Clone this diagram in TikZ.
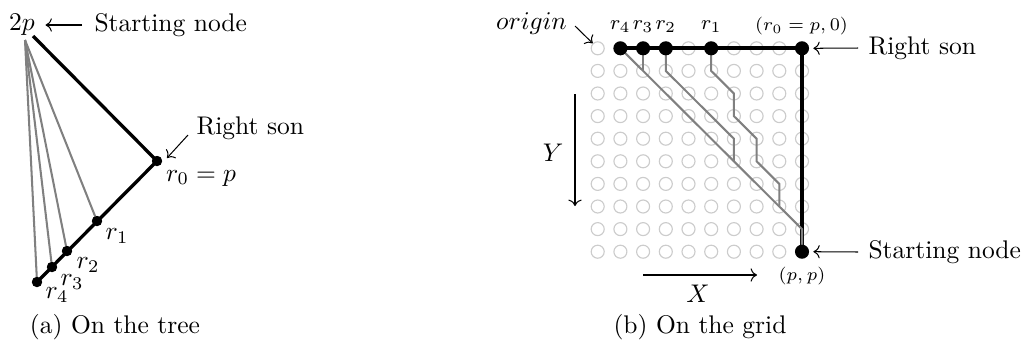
\documentclass[tikz,border=0pt]{standalone}
\usetikzlibrary{arrows.meta}
\begin{document}
\begin{tikzpicture}[x=0.392pt,y=-0.392pt,
  gridc/.style={circle,draw=gray!40,line width=0.45pt,inner sep=0pt,minimum size=5.1pt},
  bigdot/.style={circle,fill=black,inner sep=0pt,minimum size=5.5pt},
  treedot/.style={circle,fill=black,inner sep=0pt,minimum size=4pt},
  blackpath/.style={line width=1.6pt,line join=miter},
  treepath/.style={line width=1.3pt},
  graypath/.style={gray,line width=0.8pt},
  lab/.style={inner sep=1pt},
  ptr/.style={->,line width=0.4pt}]
\useasboundingbox (0,0) rectangle (1029,353);

% ---------------- (a) tree ----------------
\node[inner sep=0pt] (twop) at (22,25) {$2p$};
\node[anchor=west,inner sep=0pt] (tsn) at (94,25) {Starting node};
\coordinate (tb) at (33,36);
\coordinate (tg) at (25,40);
\node[treedot] (t0) at (157,161) {};
\node[treedot] (t1) at (97,221) {};
\node[treedot] (t2) at (67,251) {};
\node[treedot] (t3) at (52,267) {};
\node[treedot] (t4) at (37,282) {};
\draw[ptr] (tsn.west) ++(-12,0) coordinate (tsa) (tsa) -- ([xshift=4pt]twop.east);
\foreach \i in {1,2,3,4} \draw[graypath] (tg) -- (t\i.center);
\draw[treepath] (tb) -- (t0.center) -- (t4.center);
\foreach \i in {0,...,4} \node[treedot] at (t\i) {};
\node[anchor=west,inner sep=0pt] (trs) at (196,128) {Right son};
\coordinate (trsa) at (188,135);
\draw[ptr] (trsa) -- (167,158) coordinate (trse);
\node[lab] (l0) at (201,178) {$r_0 = p$};
\node[lab] (l1) at (117,236) {$r_1$};
\node[lab] (l2) at (88,265) {$r_2$};
\node[lab] (l3) at (72,282) {$r_3$};
\node[lab] (l4) at (57,295) {$r_4$};
\node (capa) at (115,327) {(a) On the tree};

% ---------------- (b) grid ----------------
\foreach \c in {0,...,9} \foreach \r in {0,...,9}
  \node[gridc] (g\c-\r) at (597.7+22.7*\c,48.3+22.6*\r) {};
\draw[blackpath] (g1-0.center) -- (g9-0.center) -- (g9-9.center);
\draw[graypath] (g1-0.center) -- (g9-8.center) -- (g9-9.center);
\draw[graypath] (g2-0.center) -- (g2-1.center);
\draw[graypath] (g3-0.center) -- (g3-1.center) -- (g6-4.center) -- (g6-5.center);
\draw[graypath] (g5-0.center) -- (g5-1.center) -- (g6-2.center) -- (g6-3.center)
  -- (g7-4.center) -- (g7-5.center) -- (g8-6.center) -- (g8-7.center);
\node[bigdot] (r4) at (g1-0) {};
\node[bigdot] (r3) at (g2-0) {};
\node[bigdot] (r2) at (g3-0) {};
\node[bigdot] (r1) at (g5-0) {};
\node[bigdot] (r0) at (g9-0) {};
\node[bigdot] (st) at (g9-9) {};
\node[font=\footnotesize,inner sep=0pt] (lr4) at (620.4,27) {$r_4$};
\node[font=\footnotesize,inner sep=0pt] (lr3) at (643.1,27) {$r_3$};
\node[font=\footnotesize,inner sep=0pt] (lr2) at (665.8,27) {$r_2$};
\node[font=\footnotesize,inner sep=0pt] (lr1) at (711.2,27) {$r_1$};
\node[font=\scriptsize,inner sep=0pt] (lr0) at (801.5,26) {$(r_0 = p, 0)$};
\node[font=\scriptsize,inner sep=0pt] (lpp) at (802,276) {$(p, p)$};
\node[inner sep=0pt] (orig) at (531.5,24) {$origin$};
\coordinate (oa) at (575,26);
\draw[ptr] (oa) -- (g0-0.north west);
\coordinate (ya) at (575,94);
\coordinate (yb) at (575,206);
\draw[ptr] (ya) -- (yb);
\node (ylab) at (553,153) {$Y$};
\coordinate (xa) at (643,275);
\coordinate (xb) at (757,275);
\draw[ptr] (xa) -- (xb);
\node (xlab) at (698,294) {$X$};
\node[anchor=west,inner sep=0pt] (grs) at (868,48) {Right son};
\draw[ptr] ([xshift=-3.9pt]grs.west) -- ([xshift=1.5pt]r0.east);
\node[anchor=west,inner sep=0pt] (gsn) at (868,252) {Starting node};
\draw[ptr] ([xshift=-3.9pt]gsn.west) -- ([xshift=1.5pt]st.east);
\node (capb) at (700,327) {(b) On the grid};
\end{tikzpicture}
\end{document}
